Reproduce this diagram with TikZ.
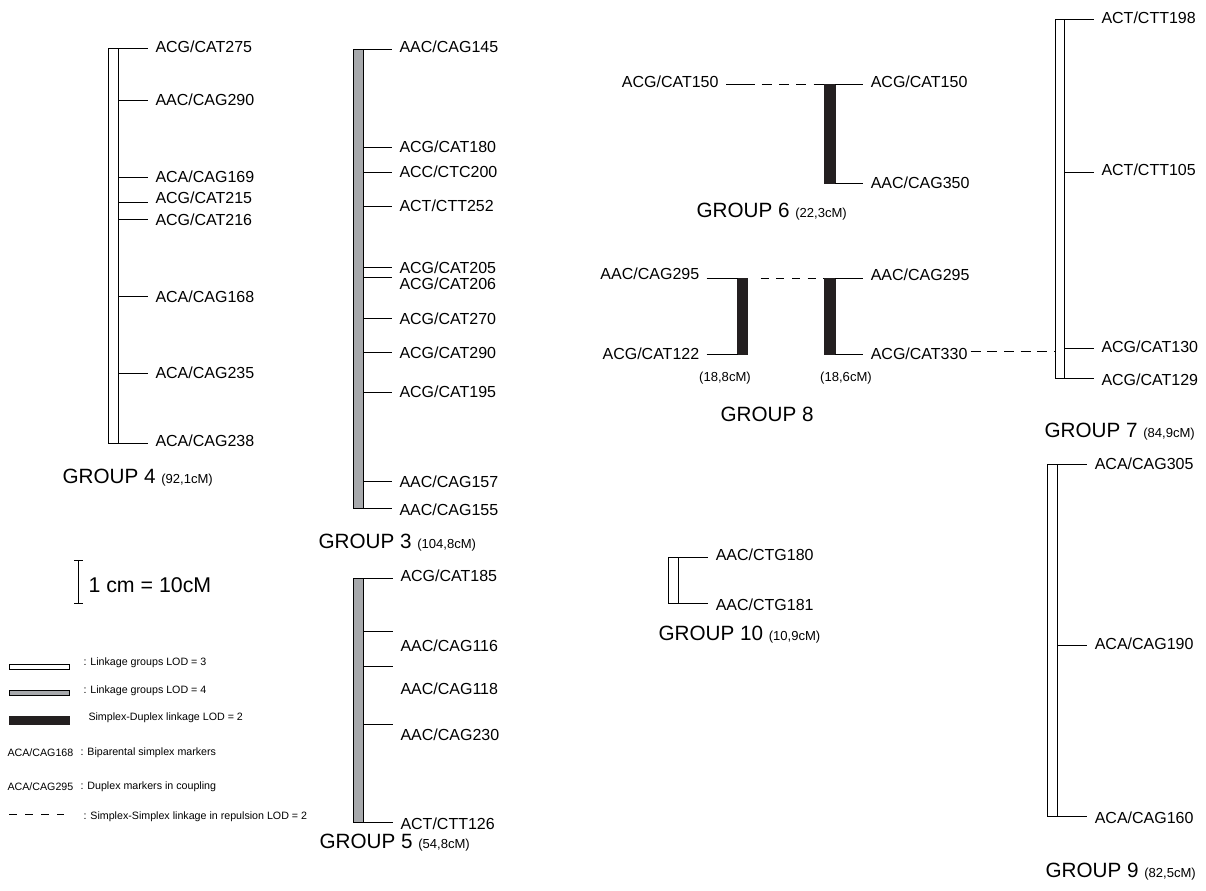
\documentclass[tikz,border=0pt]{standalone}
\usepackage{fontspec}
\setmainfont{Liberation Sans}
\usepackage{tikz}
\tikzset{every picture/.style={line width=0.75pt}}
\definecolor{lodgray}{RGB}{167,169,172}
\definecolor{sdblack}{RGB}{35,31,32}
\tikzset{
  lodthree/.style={draw=black, fill=white},
  lodfour/.style={draw=black, fill=lodgray},
  sdlink/.style={draw=sdblack, fill=sdblack},
  repuls/.style={dash pattern=on 7.5pt off 5.5pt},
  repulsb/.style={dash pattern=on 6pt off 5.75pt},
  mlabel/.style={anchor=west, inner xsep=5.25pt, inner ysep=0pt, font=\fontsize{12}{14}\selectfont},
  mlabelL/.style={mlabel, anchor=east},
  grouplabel/.style={anchor=west, inner sep=0pt, font=\fontsize{15.5}{18}\selectfont},
  cmlabel/.style={inner sep=0pt, font=\fontsize{9.8}{12}\selectfont},
  legtext/.style={anchor=west, inner sep=0pt, font=\fontsize{8}{10}\selectfont}
}
\newcommand{\cM}[1]{{\fontsize{9.8}{12}\selectfont #1}}

\begin{document}
\begin{tikzpicture}[x=0.75pt,y=0.75pt,yscale=-1,xscale=1]
\useasboundingbox (0,0) rectangle (1206,891);

%% GROUP 4
%Shape: Rectangle
\draw[lodthree] (108,49) rectangle (118,443.3);
% Text Node
\node[mlabel] (m4a) at (148,47) {ACG/CAT275};
\node[mlabel] (m4b) at (148,100) {AAC/CAG290};
\node[mlabel] (m4c) at (148,177) {ACA/CAG169};
\node[mlabel] (m4d) at (148,198) {ACG/CAT215};
\node[mlabel] (m4e) at (148,220) {ACG/CAT216};
\node[mlabel] (m4f) at (148,297) {ACA/CAG168};
\node[mlabel] (m4g) at (148,373) {ACA/CAG235};
\node[mlabel] (m4h) at (148,441) {ACA/CAG238};
%Straight Lines
\draw (118,49) coordinate (b4a) -- (b4a -| m4a.west);
\draw (118,100.7) coordinate (b4b) -- (b4b -| m4b.west);
\draw (118,177.3) coordinate (b4c) -- (b4c -| m4c.west);
\draw (118,202.7) coordinate (b4d) -- (b4d -| m4d.west);
\draw (118,220) coordinate (b4e) -- (b4e -| m4e.west);
\draw (118,296.7) coordinate (b4f) -- (b4f -| m4f.west);
\draw (118,373.3) coordinate (b4g) -- (b4g -| m4g.west);
\draw (118,443.3) coordinate (b4h) -- (b4h -| m4h.west);
% Text Node
\node[grouplabel] (g4) at (62,478) {GROUP 4 \cM{(92,1cM)}};

%% GROUP 3
%Shape: Rectangle
\draw[lodfour] (353,49.3) rectangle (363,508.3);
% Text Node
\node[mlabel] (m3a) at (392,46.7) {AAC/CAG145};
\node[mlabel] (m3b) at (392,146.7) {ACG/CAT180};
\node[mlabel] (m3c) at (392,171.7) {ACC/CTC200};
\node[mlabel] (m3d) at (392,205.7) {ACT/CTT252};
\node[mlabel] (m3e) at (392,267.3) {ACG/CAT205};
\node[mlabel] (m3f) at (392,284) {ACG/CAT206};
\node[mlabel] (m3g) at (392,319) {ACG/CAT270};
\node[mlabel] (m3h) at (392,352.7) {ACG/CAT290};
\node[mlabel] (m3i) at (392,392) {ACG/CAT195};
\node[mlabel] (m3j) at (392,481.7) {AAC/CAG157};
\node[mlabel] (m3k) at (392,510) {AAC/CAG155};
%Straight Lines
\draw (363,49.3) coordinate (b3a) -- (b3a -| m3a.west);
\draw (363,147.7) coordinate (b3b) -- (b3b -| m3b.west);
\draw (363,172.3) coordinate (b3c) -- (b3c -| m3c.west);
\draw (363,207) coordinate (b3d) -- (b3d -| m3d.west);
\draw (363,267.3) coordinate (b3e) -- (b3e -| m3e.west);
\draw (363,277.3) coordinate (b3f) -- (b3f -| m3f.west);
\draw (363,318.3) coordinate (b3g) -- (b3g -| m3g.west);
\draw (363,352.7) coordinate (b3h) -- (b3h -| m3h.west);
\draw (363,392.7) coordinate (b3i) -- (b3i -| m3i.west);
\draw (363,481.7) coordinate (b3j) -- (b3j -| m3j.west);
\draw (363,508.3) coordinate (b3k) -- (b3k -| m3k.west);
% Text Node
\node[grouplabel] (g3) at (318,543) {GROUP 3 \cM{(104,8cM)}};

%% GROUP 5
%Shape: Rectangle
\draw[lodfour] (353,578.3) rectangle (363,822.3);
% Text Node
\node[mlabel] (m5a) at (393,575.7) {ACG/CAT185};
\node[mlabel] (m5b) at (393,646) {AAC/CAG116};
\node[mlabel] (m5c) at (393,688.3) {AAC/CAG118};
\node[mlabel] (m5d) at (393,735) {AAC/CAG230};
\node[mlabel] (m5e) at (393,823.3) {ACT/CTT126};
%Straight Lines
\draw (363,578.3) coordinate (b5a) -- (b5a -| m5a.west);
\draw (363,631) coordinate (b5b) -- (b5b -| m5b.west);
\draw (363,666.7) coordinate (b5c) -- (b5c -| m5c.west);
\draw (363,724.3) coordinate (b5d) -- (b5d -| m5d.west);
\draw (363,822.3) coordinate (b5e) -- (b5e -| m5e.west);
% Text Node
\node[grouplabel] (g5) at (319,843) {GROUP 5 \cM{(54,8cM)}};

%% GROUP 6
%Shape: Rectangle
\draw[sdlink] (824.3,84.3) rectangle (835,183.3);
% Text Node
\node[mlabel] (m6a) at (863.3,82) {ACG/CAT150};
\node[mlabel] (m6b) at (863.3,183) {AAC/CAG350};
\node[mlabelL] (m6c) at (726,82) {ACG/CAT150};
%Straight Lines
\draw (835,84.3) coordinate (b6a) -- (b6a -| m6a.west);
\draw (835,183.3) coordinate (b6b) -- (b6b -| m6b.west);
\draw (m6c.east |- b6a) -- (755,84.3) coordinate (d6);
\draw[repuls, dash phase=8pt] (d6) -- (824.3,84.3);
% Text Node
\node[grouplabel] (g6) at (696,212) {GROUP 6 \cM{(22,3cM)}};

%% GROUP 8
%Shape: Rectangle
\draw[sdlink] (737.7,278.3) rectangle (747.7,354.3);
\draw[sdlink] (824.3,278.3) rectangle (835,354.3);
% Text Node
\node[mlabelL] (m8a) at (706.7,274) {AAC/CAG295};
\node[mlabelL] (m8b) at (706.7,354) {ACG/CAT122};
\node[mlabel] (m8c) at (863.3,275) {AAC/CAG295};
\node[mlabel] (m8d) at (863.3,354) {ACG/CAT330};
%Straight Lines
\draw (m8a.east |- 0,278.3) -- (737.7,278.3);
\draw[repulsb, dash phase=6pt] (753,278.3) -- (824.3,278.3);
\draw (m8b.east |- 0,354.3) -- (737.7,354.3);
\draw (835,278.3) coordinate (b8c) -- (b8c -| m8c.west);
\draw (835,354.3) coordinate (b8d) -- (b8d -| m8d.west);
\draw[dash pattern=on 7.5pt off 5pt] (970.7,351) -- (1055,351);
% Text Node
\node[cmlabel] (c8a) at (725,378) {(18,8cM)};
\node[cmlabel] (c8b) at (846,378) {(18,6cM)};
\node[grouplabel, anchor=center] (g8) at (767,414) {GROUP 8};

%% GROUP 7
%Shape: Rectangle
\draw[lodthree] (1055,20) rectangle (1064.3,378.3);
% Text Node
\node[mlabel] (m7a) at (1094,18) {ACT/CTT198};
\node[mlabel] (m7b) at (1094,170) {ACT/CTT105};
\node[mlabel] (m7c) at (1094,346.7) {ACG/CAT130};
\node[mlabel] (m7d) at (1094,379.3) {ACG/CAT129};
%Straight Lines
\draw (1064.3,20) coordinate (b7a) -- (b7a -| m7a.west);
\draw (1064.3,172.7) coordinate (b7b) -- (b7b -| m7b.west);
\draw (1064.3,348.3) coordinate (b7c) -- (b7c -| m7c.west);
\draw (1064.3,378.3) coordinate (b7d) -- (b7d -| m7d.west);
% Text Node
\node[grouplabel] (g7) at (1044,432) {GROUP 7 \cM{(84,9cM)}};

%% GROUP 9
%Shape: Rectangle
\draw[lodthree] (1047.7,464.3) rectangle (1057.3,816);
% Text Node
\node[mlabel] (m9a) at (1087.3,463.3) {ACA/CAG305};
\node[mlabel] (m9b) at (1087.3,644) {ACA/CAG190};
\node[mlabel] (m9c) at (1087.3,817.3) {ACA/CAG160};
%Straight Lines
\draw (1057.3,464.3) coordinate (b9a) -- (b9a -| m9a.west);
\draw (1057.3,645.7) coordinate (b9b) -- (b9b -| m9b.west);
\draw (1057.3,816) coordinate (b9c) -- (b9c -| m9c.west);
% Text Node
\node[grouplabel] (g9) at (1045,872) {GROUP 9 \cM{(82,5cM)}};

%% GROUP 10
%Shape: Rectangle
\draw[lodthree] (668.3,557.3) rectangle (678.3,603.3);
% Text Node
\node[mlabel] (m10a) at (708.3,555) {AAC/CTG180};
\node[mlabel] (m10b) at (708.3,605) {AAC/CTG181};
%Straight Lines
\draw (678.3,557.3) coordinate (b10a) -- (b10a -| m10a.west);
\draw (678.3,603.3) coordinate (b10b) -- (b10b -| m10b.west);
% Text Node
\node[grouplabel] (g10) at (658,635) {GROUP 10 \cM{(10,9cM)}};

%% scale
%Straight Lines
\draw (78,560) -- (78,603);
\draw (74,560) -- (83,560);
\draw (74,603) -- (83,603);
% Text Node
\node[grouplabel, font=\fontsize{16}{19}\selectfont] (scl) at (88,585) {1 cm = 10cM};

%% legend
%Shape: Rectangle
\draw[lodthree] (9.3,664.3) rectangle (69,669);
\draw[lodfour] (9.3,690) rectangle (69,695.7);
\draw[sdlink] (9.3,716.7) rectangle (69,724);
%Straight Lines
\draw[dash pattern=on 6.2pt off 5.8pt] (9,814.3) -- (64,814.3);
% Text Node
\node[legtext] (l1) at (83,663) {: Linkage groups LOD = 3};
\node[legtext] (l2) at (83,691) {: Linkage groups LOD = 4};
\node[legtext] (l3) at (88,718) {Simplex-Duplex linkage LOD = 2};
\node[legtext] (l4a) at (7,753) {ACA/CAG168};
\node[legtext] (l4b) at (80,753) {: Biparental simplex markers};
\node[legtext] (l5a) at (7,787) {ACA/CAG295};
\node[legtext] (l5b) at (80,787) {: Duplex markers in coupling};
\node[legtext] (l6) at (83,817) {: Simplex-Simplex linkage in repulsion LOD = 2};

\end{tikzpicture}
\end{document}
